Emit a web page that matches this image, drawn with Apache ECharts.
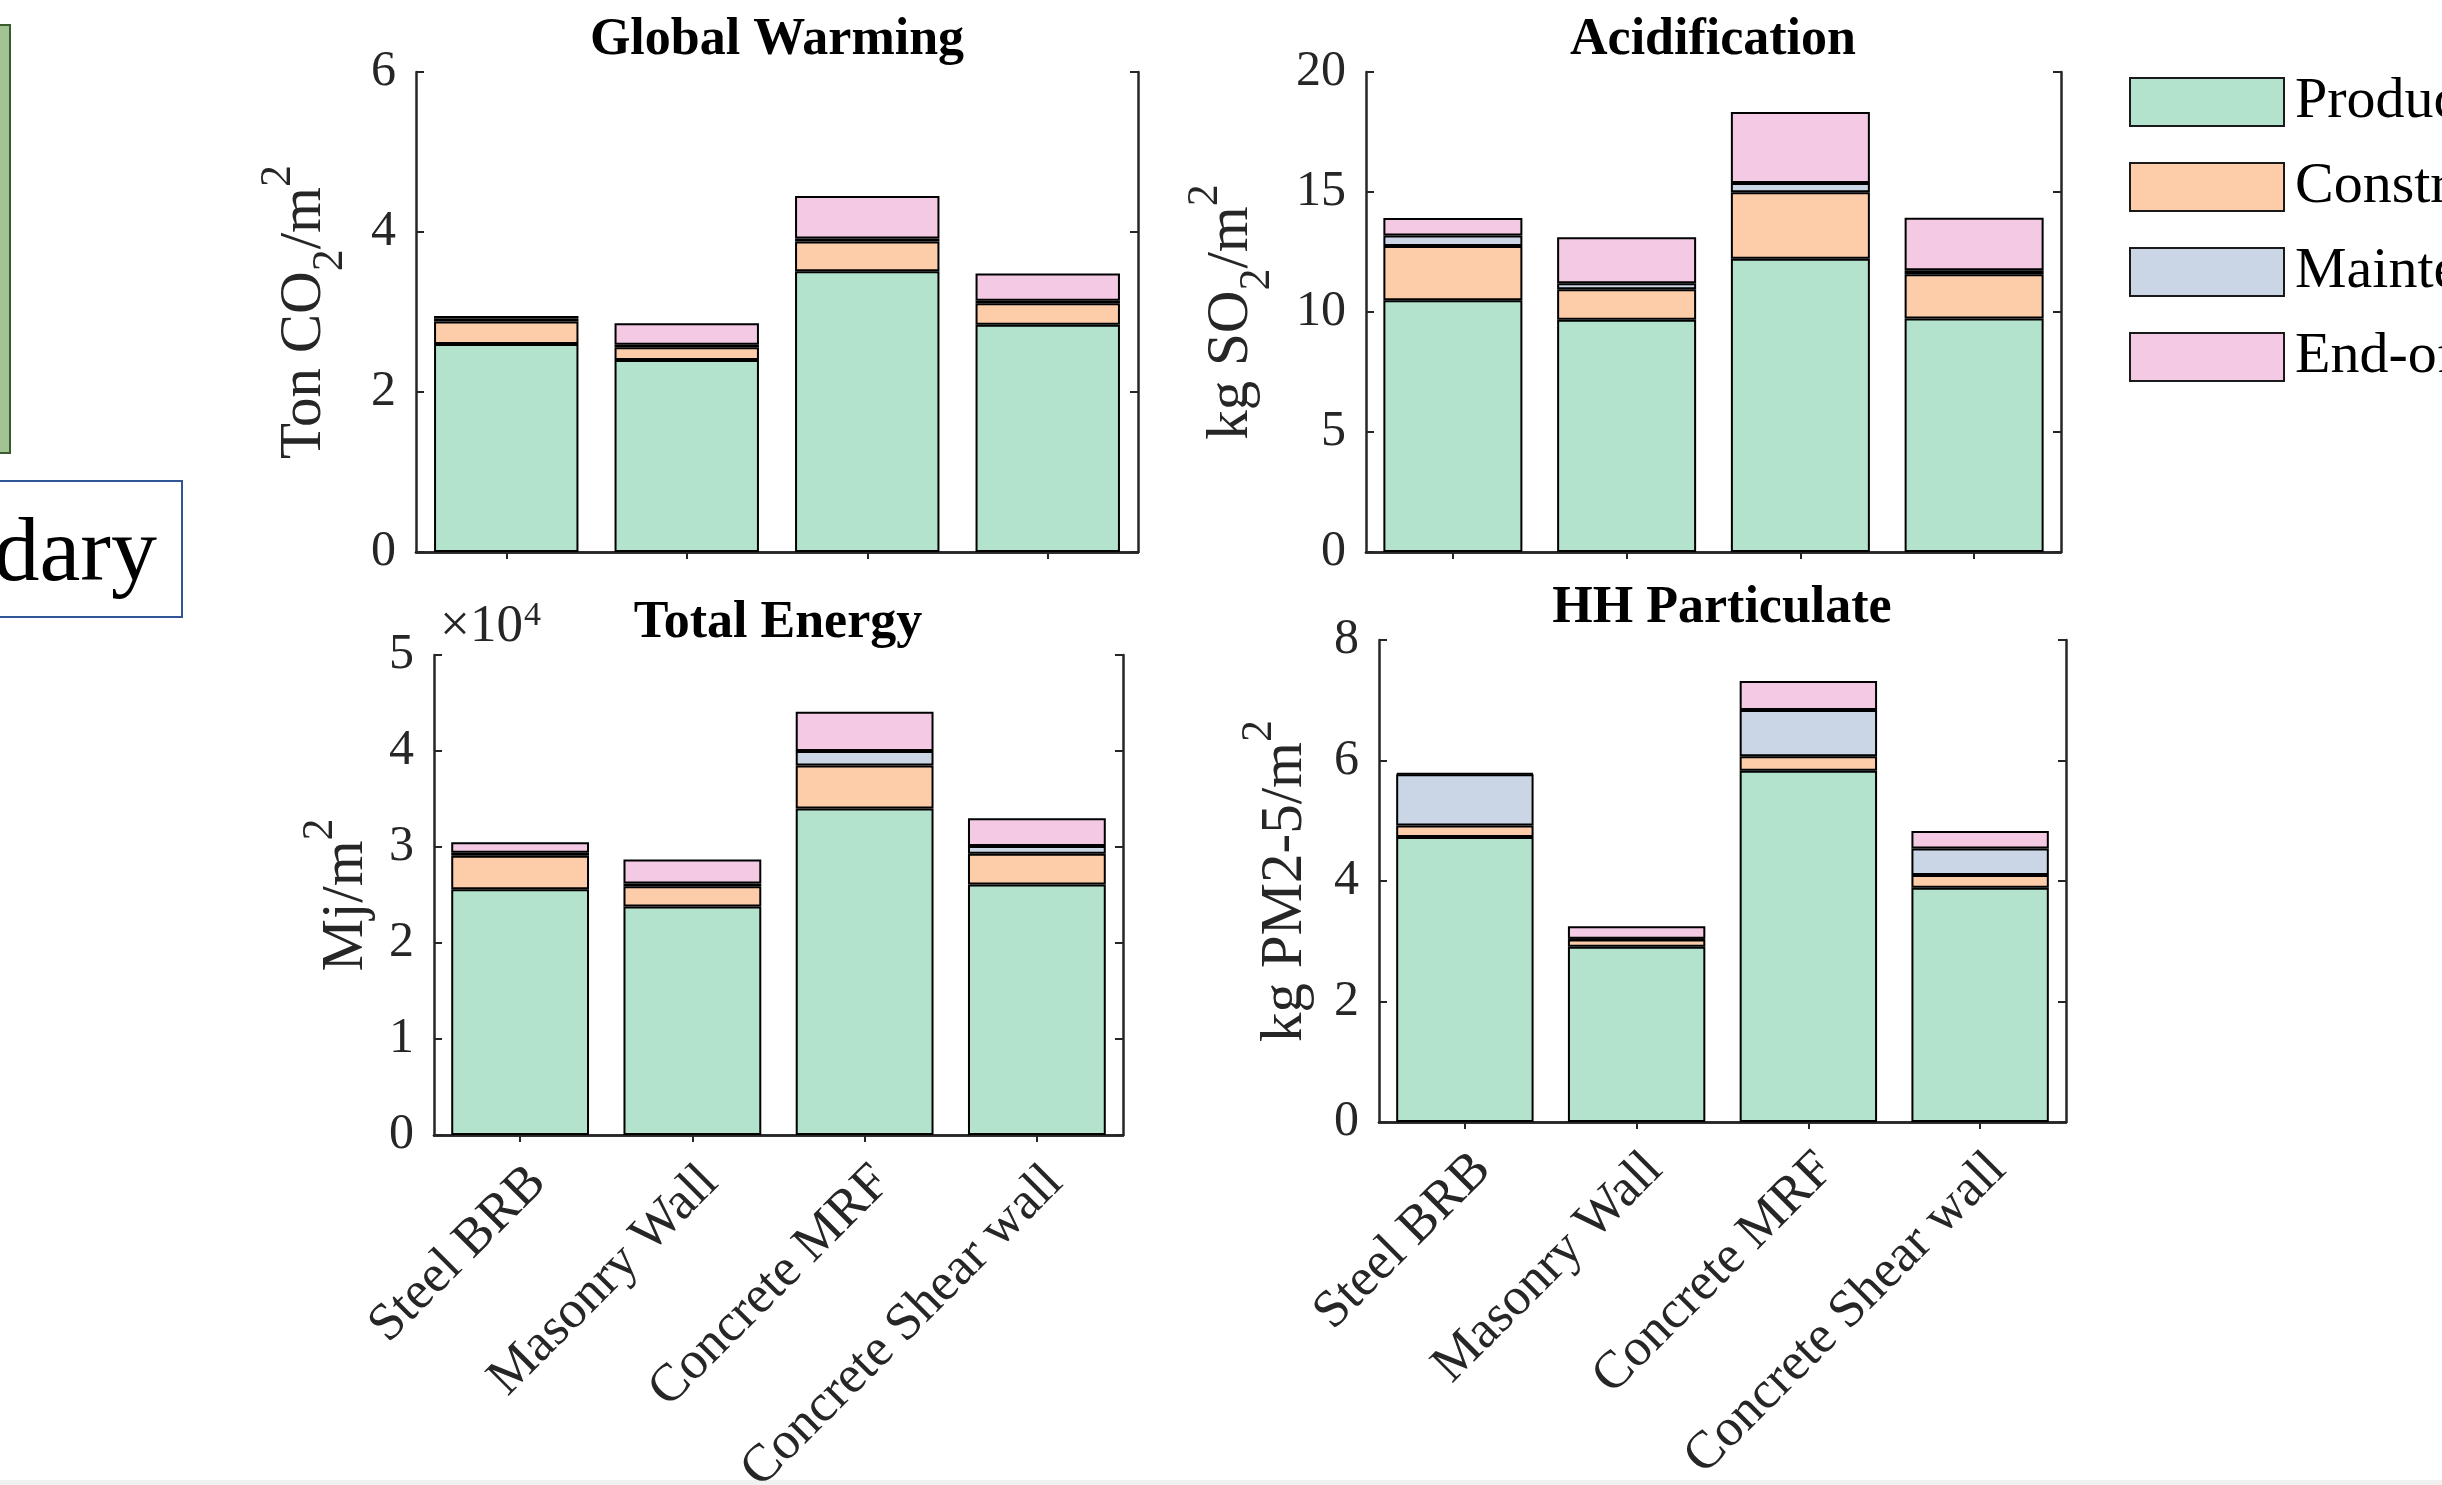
<!DOCTYPE html>
<html>
<head>
<meta charset="utf-8">
<script src="https://cdn.jsdelivr.net/npm/echarts@6/dist/echarts.min.js"></script>
<style>
html,body{margin:0;padding:0;background:#fff;}
#chart{width:2442px;height:1485px;}
</style>
</head>
<body>
<div id="chart"></div>
<script>
// ---- data ----
const categories = ['Steel BRB', 'Masonry Wall', 'Concrete MRF', 'Concrete Shear wall'];
const phaseNames = ['Production', 'Construction', 'Maintenance', 'End-of-life'];

const gwProduction   = [2.60, 2.40, 3.51, 2.84];
const gwConstruction = [0.28, 0.16, 0.37, 0.27];
const gwMaintenance  = [0.04, 0.03, 0.04, 0.03];
const gwEndOfLife    = [0.03, 0.27, 0.53, 0.34];

const acProduction   = [10.49, 9.68, 12.22, 9.73];
const acConstruction = [2.26, 1.27, 2.77, 1.84];
const acMaintenance  = [0.44, 0.25, 0.39, 0.17];
const acEndOfLife    = [0.73, 1.91, 2.95, 2.19];

const teProduction   = [25600, 23800, 34000, 26100];
const teConstruction = [3500, 2100, 4500, 3200];
const teMaintenance  = [300, 300, 1500, 800];
const teEndOfLife    = [1100, 2500, 4100, 2900];

const hhProduction   = [4.73, 2.91, 5.83, 3.89];
const hhConstruction = [0.19, 0.12, 0.24, 0.21];
const hhMaintenance  = [0.85, 0.01, 0.77, 0.44];
const hhEndOfLife    = [0.02, 0.21, 0.48, 0.29];

const gwTicks = [0, 2, 4, 6];
const acTicks = [0, 5, 10, 15, 20];
const teTicks = [0, 1, 2, 3, 4, 5];
const hhTicks = [0, 2, 4, 6, 8];

// ---- style ----
const FONT = "'Liberation Serif','Times New Roman',serif";
const AX = '#262626';
const phaseColors = ['#b3e3cc', '#fdcca8', '#cad5e6', '#f3c9e3'];

const plots = [
  { title: 'Global Warming', grid: {left: 416, top: 72, width: 722, height: 480},
    data: [gwProduction, gwConstruction, gwMaintenance, gwEndOfLife], ticks: gwTicks, scale: 1,
    name: '{m|Ton CO}{s|2}{m|/m}{p|2}', nameGap: 64, showX: false },
  { title: 'Acidification', grid: {left: 1366, top: 72, width: 695, height: 480},
    data: [acProduction, acConstruction, acMaintenance, acEndOfLife], ticks: acTicks, scale: 1,
    name: '{m|kg SO}{s|2}{m|/m}{p|2}', nameGap: 87, showX: false },
  { title: 'Total Energy', grid: {left: 434, top: 655, width: 689, height: 480},
    data: [teProduction, teConstruction, teMaintenance, teEndOfLife], ticks: teTicks, scale: 10000,
    name: '{m|Mj/m}{p|2}', nameGap: 40, showX: true },
  { title: 'HH Particulate', grid: {left: 1379, top: 640, width: 687, height: 482},
    data: [hhProduction, hhConstruction, hhMaintenance, hhEndOfLife], ticks: hhTicks, scale: 1,
    name: '{m|kg PM2-5/m}{p|2}', nameGap: 46, showX: true }
];

const grids = [], xAxes = [], yAxes = [], series = [];
plots.forEach((p, i) => {
  grids.push(Object.assign({containLabel: false, outerBoundsMode: 'none'}, p.grid));
  const ticks = p.ticks;
  const ymin = ticks[0] * p.scale, ymax = ticks[ticks.length - 1] * p.scale;
  const yint = (ticks[1] - ticks[0]) * p.scale;
  const lineStyle = {color: AX, width: 2.5};
  xAxes.push({
    type: 'category', gridIndex: i, data: categories, position: 'bottom',
    axisLine: {show: true, lineStyle: lineStyle},
    axisTick: {show: true, inside: true, alignWithLabel: true, length: 7, lineStyle: {color: AX, width: 2}},
    axisLabel: {show: p.showX, rotate: 45, fontFamily: FONT, fontSize: 53, color: AX,
      margin: 22, verticalAlign: 'top', lineHeight: 50, interval: 0, hideOverlap: false},
    splitLine: {show: false}
  });
  xAxes.push({
    type: 'category', gridIndex: i, data: categories, position: 'top',
    axisLine: {show: true, lineStyle: lineStyle},
    axisTick: {show: true, inside: true, alignWithLabel: true, length: 7, lineStyle: {color: AX, width: 2}},
    axisLabel: {show: false}, splitLine: {show: false}
  });
  yAxes.push({
    type: 'value', gridIndex: i, min: ymin, max: ymax, interval: yint, position: 'left',
    name: p.name, nameLocation: 'middle', nameRotate: 90, nameGap: p.nameGap,
    nameTextStyle: {
      fontFamily: FONT, color: AX,
      rich: {
        m: {fontFamily: FONT, fontSize: 59, lineHeight: 96, color: AX},
        s: {fontFamily: FONT, fontSize: 44, lineHeight: 44, verticalAlign: 'bottom', color: AX},
        p: {fontFamily: FONT, fontSize: 44, lineHeight: 44, verticalAlign: 'top', color: AX}
      }
    },
    axisLine: {show: true, lineStyle: lineStyle},
    axisTick: {show: true, inside: true, length: 8, lineStyle: {color: AX, width: 2}},
    axisLabel: {show: true, fontFamily: FONT, fontSize: 50, color: AX, margin: 20,
      formatter: (v) => String(Math.round(v / p.scale * 100) / 100)},
    splitLine: {show: false}
  });
  yAxes.push({
    type: 'value', gridIndex: i, min: ymin, max: ymax, interval: yint, position: 'right',
    axisLine: {show: true, lineStyle: lineStyle},
    axisTick: {show: true, inside: true, length: 8, lineStyle: {color: AX, width: 2}},
    axisLabel: {show: false}, splitLine: {show: false}
  });
  p.data.forEach((arr, k) => {
    series.push({
      type: 'bar', name: phaseNames[k], stack: 'plot' + i,
      xAxisIndex: 2 * i, yAxisIndex: 2 * i,
      data: arr, barWidth: '80%',
      itemStyle: {color: phaseColors[k], borderColor: '#000', borderWidth: 2},
      emphasis: {disabled: true}
    });
  });
});

function txt(text, x, y, size, weight, align, fill) {
  return {type: 'text', x: x, y: y, z: 10,
    style: {text: text, font: (weight || 'normal') + ' ' + size + 'px ' + FONT,
      fill: fill || '#000', align: align || 'center', verticalAlign: 'middle',
      textAlign: align || 'center', textVerticalAlign: 'middle'}};
}

const graphics = [
  txt('Global Warming', 777, 41, 52, 'bold'),
  txt('Acidification', 1713, 41, 52, 'bold'),
  txt('Total Energy', 778, 624, 52, 'bold'),
  txt('HH Particulate', 1722, 609, 52, 'bold'),
  txt('×10', 440, 627, 53, 'normal', 'left', AX),
  txt('4', 524, 616, 34, 'normal', 'left', AX),
  {type: 'rect', shape: {x: -3, y: 25, width: 13, height: 428},
    style: {fill: '#a2c393', stroke: '#3b5a30', lineWidth: 2}},
  {type: 'rect', shape: {x: -3, y: 481, width: 185, height: 136},
    style: {fill: '#fff', stroke: '#2f5597', lineWidth: 2}},
  txt('dary', 157, 556, 92, 'normal', 'right'),
  {type: 'rect', shape: {x: 0, y: 1480, width: 2442, height: 5}, style: {fill: '#f1f1f1'}}
];

const chart = echarts.init(document.getElementById('chart'), null, {renderer: 'canvas'});
chart.setOption({
  animation: false,
  backgroundColor: '#fff',
  grid: grids,
  xAxis: xAxes,
  yAxis: yAxes,
  series: series,
  legend: {
    data: phaseNames, orient: 'vertical', left: 2129, top: 73, padding: 0,
    itemWidth: 154, itemHeight: 48, itemGap: 27, icon: 'rect',
    itemStyle: {borderColor: '#1a1a1a', borderWidth: 2},
    textStyle: {fontFamily: FONT, fontSize: 58, color: '#000', padding: [0, 0, 0, 6]},
    selectedMode: false
  },
  graphic: graphics
});
</script>
</body>
</html>
